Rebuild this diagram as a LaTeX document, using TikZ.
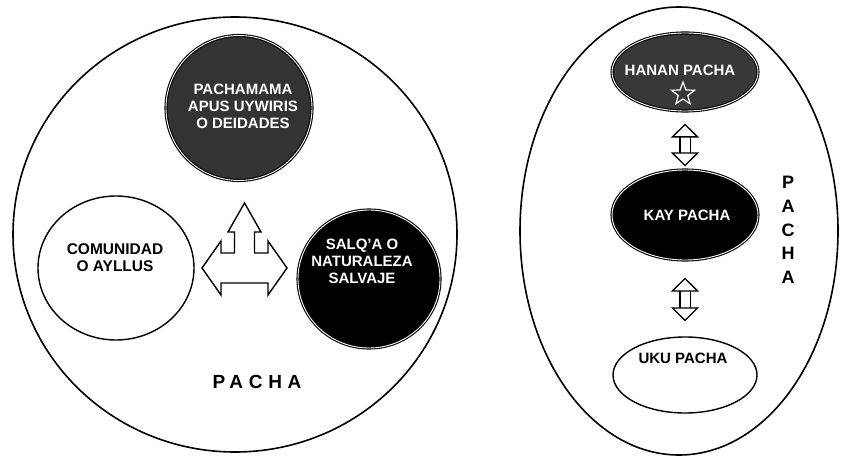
\documentclass[tikz,border=0pt]{standalone}
\usepackage{fontspec}
\setmainfont{Liberation Sans}
\usetikzlibrary{shapes.geometric,arrows.meta}
\begin{document}
\begin{tikzpicture}[x=1pt,y=-1pt,
  world/.style={ellipse, draw, line width=1.6pt, inner sep=0pt},
  lightorb/.style={ellipse, draw, line width=1.4pt, fill=white, inner sep=0pt},
  darkorb/.style={ellipse, draw, line width=1.1pt, double=white, double distance=0.9pt, fill=black, inner sep=0pt},
  whitetext/.style={text=white, font=\bfseries\fontsize{15}{17}\selectfont, align=center, inner sep=0pt},
  blacktext/.style={text=black, font=\bfseries\fontsize{15.5}{17}\selectfont, align=center, inner sep=0pt},
  bigtext/.style={text=black, font=\bfseries\fontsize{18}{24}\selectfont, align=center, inner sep=0pt},
  hollowtip/.tip={Triangle[open, fill=white, length=14pt, width=28pt, line width=1.3pt]},
  updown/.style={draw, line width=1.3pt, double=white, double distance=9pt, hollowtip-hollowtip},
  fatarrow/.style={draw, line width=1.4pt, fill=white, line join=miter}
]
\useasboundingbox (0,0) rectangle (850,457);
% outer worlds
\node[world, minimum width=444pt, minimum height=435pt] (leftworld) at (235,234.5) {};
\node[world, minimum width=318pt, minimum height=448pt] (rightworld) at (679,231) {};
% left diagram
\node[darkorb, fill=black!80, minimum width=146pt, minimum height=145pt] (pachamama) at (239,108) {};
\node[whitetext] (pachamamatext) at (243,106) {PACHAMAMA\\APUS UYWIRIS\\O DEIDADES};
\node[lightorb, minimum width=156pt, minimum height=144pt] (comunidad) at (116,268) {};
\node[blacktext] (comunidadtext) at (115,258) {COMUNIDAD\\O AYLLUS};
\node[darkorb, minimum width=142pt, minimum height=138pt] (salqa) at (369,279) {};
\node[whitetext] (salqatext) at (362,261) {SALQ'A O\\NATURALEZA\\SALVAJE};
\coordinate (hub) at (244.5,268);
\draw[fatarrow] (244.5,203) -- (261,232) -- (254.5,232) -- (254.5,253) -- (268,253) -- (268,241)
  -- (287,268) -- (268,295) -- (268,283) -- (221,283) -- (221,295) -- (202,268) -- (221,241)
  -- (221,253) -- (234.5,253) -- (234.5,232) -- (228,232) -- cycle;
\node[bigtext, font=\bfseries\fontsize{19}{24}\selectfont\addfontfeature{LetterSpace=30}] (pachaleft) at (257,382) {PACHA};
% right diagram
\node[darkorb, fill=black!78, minimum width=146pt, minimum height=78pt] (hanan) at (685,72) {};
\node[whitetext] (hanantext) at (680,70) {HANAN PACHA};
\node[star, star points=5, star point ratio=2.4, minimum size=24pt, draw=white, line width=1.2pt, fill=black!78, inner sep=0pt] (star) at (683,94) {};
\node[darkorb, minimum width=146pt, minimum height=90pt] (kay) at (685,215) {};
\node[whitetext] (kaytext) at (687,215) {KAY PACHA};
\node[lightorb, minimum width=144pt, minimum height=76pt] (uku) at (685,375) {};
\node[blacktext, font=\bfseries\fontsize{15}{16}\selectfont] (ukutext) at (683,358) {UKU PACHA};
\node[bigtext, font=\bfseries\fontsize{18}{23.8}\selectfont] (pacharight) at (788,230) {P\\A\\C\\H\\A};
\draw[updown, shorten <=12pt, shorten >=3pt] (hanan.south) -- (hanan.south |- kay.north);
\draw[updown, shorten <=17pt, shorten >=15pt] (kay.south) -- (kay.south |- uku.north);
\end{tikzpicture}
\end{document}
